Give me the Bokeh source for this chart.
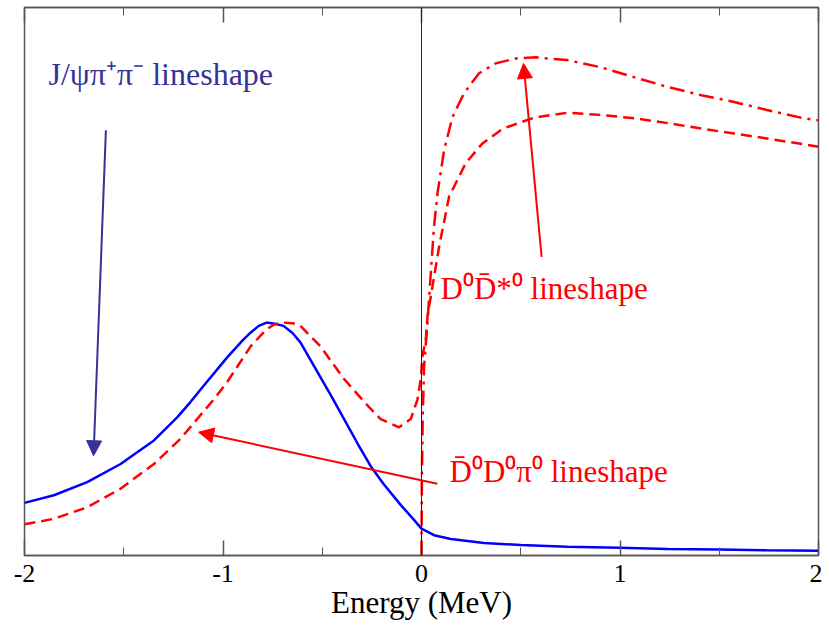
from bokeh.plotting import figure
from bokeh.models import (LinearAxis, FixedTicker, Span, Arrow, NormalHead, Label, Range1d)
from bokeh.embed import file_html
from bokeh.resources import INLINE

# ---------------- data ----------------
# J/psi pi+ pi- lineshape (solid blue)
jpsi_x = [-2.0, -1.852, -1.684, -1.516, -1.348, -1.231, -1.164, -1.115, -0.98, -0.90,
          -0.86, -0.82, -0.78, -0.74, -0.695, -0.65, -0.61, -0.51, -0.45, -0.39,
          -0.32, -0.256, -0.19, -0.104, -0.04, 0.0, 0.063, 0.148, 0.315, 0.50,
          0.735, 1.0, 1.24, 1.5, 1.74, 2.0]
jpsi_y = [9.6, 11.0, 13.4, 16.7, 21.0, 25.2, 28.0, 30.2, 36.1, 39.3,
          40.7, 41.9, 42.5, 42.3, 41.9, 40.6, 38.9, 32.6, 28.8, 24.9,
          20.3, 16.3, 13.0, 9.2, 6.6, 4.9, 3.7, 3.0, 2.3, 1.9,
          1.6, 1.4, 1.2, 1.1, 0.96, 0.85]

# Dbar0 D0 pi0 lineshape (red dashed)
ddpi_x = [-2.0, -1.852, -1.684, -1.516, -1.348, -1.214, -1.13, -1.046, -0.98, -0.86,
          -0.78, -0.74, -0.695, -0.65, -0.61, -0.51, -0.39, -0.27, -0.206, -0.113,
          -0.054, -0.02, -0.0035, 0.005, 0.022, 0.03, 0.089, 0.139, 0.223, 0.307,
          0.41, 0.567, 0.735, 0.903, 1.07, 1.24, 1.41, 1.575, 1.74, 2.0]
ddpi_y = [5.7, 6.7, 8.8, 12.2, 16.7, 21.3, 24.9, 28.5, 31.6, 38.2,
          41.3, 42.2, 42.5, 42.4, 41.9, 38.2, 32.2, 27.3, 24.9, 23.4,
          24.9, 28.5, 32.2, 36.4, 39.5, 43.6, 56.4, 65.5, 71.6, 75.2,
          77.9, 79.9, 80.8, 80.4, 79.8, 78.9, 77.9, 77.0, 76.1, 74.6]

# D0 Dbar*0 lineshape (red dash-dot)
ddst_x = [0.0, 0.002, 0.006, 0.013, 0.030, 0.047, 0.063, 0.081, 0.114, 0.156, 0.215,
          0.29, 0.374, 0.475, 0.576, 0.735, 0.903, 1.07, 1.24, 1.41, 1.57, 1.74,
          1.91, 2.0]
ddst_y = [0.0, 14.0, 25.0, 34.5, 42.5, 51.6, 60.0, 66.2, 74.0, 80.0, 84.4,
          88.0, 89.8, 90.7, 90.9, 90.4, 89.1, 87.3, 85.5, 84.0, 82.8, 81.3,
          79.9, 79.4]

tick_values = [-2, -1, 0, 1, 2]
tick_labels = ["-2", "-1", "0", "1", "2"]
minor_tick_values = [-1.5, -0.5, 0.5, 1.5]

# annotation anchors (data units): start x, start y, end x, end y
arrow_jpsi = [-1.59, 77.6, -1.652, 18.2]
arrow_ddpi = [0.08, 13.1, -1.123, 22.5]
arrow_ddst = [0.605, 54.5, 0.514, 89.8]

label_jpsi = ("J/\u03c8\u03c0\u207a\u03c0\u207b lineshape", -1.879, 87.8, "32px")
label_ddst = ("D\u2070D\u0304*\u2070 lineshape", 0.096, 48.7, "31px")
label_ddpi = ("D\u0304\u2070D\u2070\u03c0\u2070 lineshape", 0.141, 15.3, "31px")

# ---------------- figure ----------------
FONT = "Liberation Serif"
FRAME = "#555555"

p = figure(width=822, height=622, output_backend="svg", toolbar_location=None,
           x_range=Range1d(-2, 2), y_range=Range1d(0, 100),
           y_axis_location=None, x_axis_location="below",
           min_border_left=24, min_border_right=4, min_border_top=7, min_border_bottom=0)
p.xgrid.visible = False
p.ygrid.visible = False
p.outline_line_color = FRAME
p.outline_line_width = 1.5
p.background_fill_color = "white"
p.border_fill_color = "white"

ticker = FixedTicker(ticks=tick_values, minor_ticks=minor_tick_values)
xa = p.xaxis[0]
xa.ticker = ticker
xa.major_label_overrides = {v: s for v, s in zip(tick_values, tick_labels)}
xa.major_tick_in = 15
xa.major_tick_out = 0
xa.minor_tick_in = 8
xa.minor_tick_out = 0
xa.axis_line_color = FRAME
xa.axis_line_width = 1.5
xa.major_tick_line_color = FRAME
xa.minor_tick_line_color = FRAME
xa.major_tick_line_width = 1.5
xa.major_label_text_font = FONT
xa.major_label_text_font_size = "26px"
xa.major_label_text_color = "black"
xa.major_label_standoff = 9
xa.axis_label = "Energy (MeV)"
xa.axis_label_text_font = FONT
xa.axis_label_text_font_size = "31px"
xa.axis_label_text_font_style = "normal"
xa.axis_label_text_color = "black"
xa.axis_label_standoff = 0

top = LinearAxis(ticker=ticker, major_tick_in=15, major_tick_out=0,
                 minor_tick_in=8, minor_tick_out=0,
                 axis_line_color=FRAME, axis_line_width=1.5,
                 major_tick_line_color=FRAME, minor_tick_line_color=FRAME,
                 major_tick_line_width=1.5,
                 major_label_text_font_size="1px", major_label_text_color=None,
                 major_label_standoff=0)
p.add_layout(top, "above")

p.add_layout(Span(location=0, dimension="height", line_color="#222222", line_width=1))

p.line(jpsi_x, jpsi_y, line_color="#0000ff", line_width=2.5)
p.line(ddpi_x, ddpi_y, line_color="#ff0000", line_width=2.5, line_dash="11 6")
p.line(ddst_x, ddst_y, line_color="#ff0000", line_width=2.5, line_dash="15 6 3 6")

for a, col in ((arrow_jpsi, "#333399"), (arrow_ddpi, "#ff0000"), (arrow_ddst, "#ff0000")):
    p.add_layout(Arrow(end=NormalHead(size=15, fill_color=col, line_color=col, line_width=1),
                       x_start=a[0], y_start=a[1], x_end=a[2], y_end=a[3],
                       line_color=col, line_width=2))

for (txt, lx, ly, fs), col in ((label_jpsi, "#333399"), (label_ddst, "#ff0000"), (label_ddpi, "#ff0000")):
    p.add_layout(Label(x=lx, y=ly, text=txt, text_font=FONT, text_font_size=fs,
                       text_color=col, text_baseline="alphabetic", text_align="left"))

open("out.html", "w").write(file_html(p, INLINE))
